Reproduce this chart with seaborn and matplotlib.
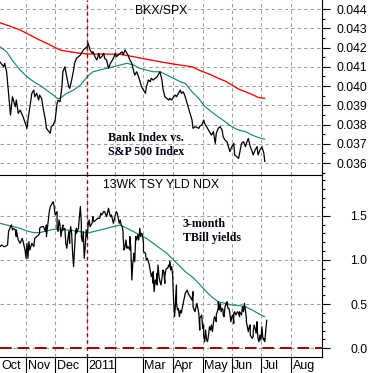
import matplotlib
matplotlib.use("Agg")
import matplotlib.pyplot as plt
import matplotlib.transforms as mtransforms
from matplotlib.ticker import MultipleLocator, FixedLocator
import seaborn as sns
import pandas as pd
import numpy as np

# ---------------- data (day offsets from 2010-10-01, values) ----------------
BASE = "2010-10-01"

ratio_days = [4, 8, 9, 11, 15, 17, 20, 21, 23, 25, 28, 32, 33, 37, 39, 40, 42, 44, 45, 47,
              49, 51, 52, 56, 57, 59, 61, 63, 64, 66, 68, 69, 71, 73, 75, 76, 78, 80, 81, 83,
              85, 87, 88, 90, 92, 94, 95, 97, 99, 100, 102, 104, 106, 107, 109, 111, 112, 114, 116, 118,
              119, 121, 123, 124, 126, 128, 130, 131, 133, 135, 136, 138, 140, 142, 143, 145, 147, 148, 150, 152,
              154, 155, 157, 159, 160, 162, 164, 166, 167, 169, 171, 172, 174, 176, 178, 179, 181, 183, 185, 186,
              190, 191, 193, 195, 198, 200, 202, 203, 205, 209, 210, 212, 214, 215, 217, 219, 222, 224, 226, 227,
              229, 231, 233, 234, 236, 238, 239, 241, 243, 245, 246, 250, 251, 253, 255, 257, 258, 260, 262, 264,
              265, 267, 269, 270, 272, 274, 276, 277]
ratio_vals = [0.04126, 0.04100, 0.04118, 0.04074, 0.03849, 0.03944, 0.03892, 0.03927, 0.03858, 0.03875,
              0.03840, 0.03780, 0.03823, 0.03962, 0.03979, 0.03944, 0.03962, 0.03927, 0.03953, 0.03936,
              0.03875, 0.03823, 0.03780, 0.03754, 0.03789, 0.03797, 0.03823, 0.03910, 0.03927, 0.03918,
              0.03996, 0.04074, 0.04100, 0.04048, 0.03996, 0.03988, 0.04031, 0.04083, 0.04118, 0.04144,
              0.04152, 0.04161, 0.04170, 0.04187, 0.04196, 0.04204, 0.04222, 0.04187, 0.04170, 0.04178,
              0.04152, 0.04135, 0.04170, 0.04144, 0.04152, 0.04170, 0.04144, 0.04135, 0.04092, 0.04118,
              0.04126, 0.04144, 0.04170, 0.04152, 0.04161, 0.04170, 0.04178, 0.04161, 0.04187, 0.04170,
              0.04161, 0.04135, 0.04118, 0.04074, 0.04057, 0.04074, 0.04048, 0.04031, 0.03996, 0.03979,
              0.03962, 0.03996, 0.04031, 0.04022, 0.04040, 0.04031, 0.04040, 0.04048, 0.04057, 0.04074,
              0.04031, 0.03988, 0.03944, 0.03936, 0.03927, 0.03936, 0.03927, 0.03944, 0.03953, 0.03944,
              0.03979, 0.03962, 0.03970, 0.03944, 0.03892, 0.03858, 0.03823, 0.03780, 0.03789, 0.03780,
              0.03792, 0.03797, 0.03823, 0.03806, 0.03789, 0.03771, 0.03745, 0.03763, 0.03702, 0.03754,
              0.03780, 0.03789, 0.03771, 0.03737, 0.03719, 0.03711, 0.03693, 0.03659, 0.03685, 0.03702,
              0.03642, 0.03624, 0.03650, 0.03702, 0.03711, 0.03685, 0.03702, 0.03728, 0.03685, 0.03659,
              0.03642, 0.03668, 0.03685, 0.03642, 0.03668, 0.03685, 0.03650, 0.03607]

ma_short_days = [4, 11, 18, 25, 32, 39, 45, 52, 59, 63, 66, 73, 80, 87, 94, 100, 107, 114, 121, 128,
                 135, 142, 148, 155, 162, 169, 176, 183, 190, 195, 202, 209, 215, 222, 229, 236, 243, 250,
                 257, 264, 270, 277]
ma_short_vals = [0.04204, 0.04178, 0.04126, 0.04083, 0.04048, 0.04022, 0.04005, 0.03979, 0.03953, 0.03936,
                 0.03936, 0.03962, 0.03979, 0.04005, 0.04048, 0.04074, 0.04083, 0.04092, 0.04100, 0.04109,
                 0.04118, 0.04109, 0.04092, 0.04083, 0.04074, 0.04074, 0.04057, 0.04040, 0.04022, 0.04014,
                 0.03970, 0.03935, 0.03895, 0.03866, 0.03840, 0.03815, 0.03789, 0.03771, 0.03763, 0.03745,
                 0.03733, 0.03723]

ma_long_days = [4, 15, 25, 35, 45, 56, 66, 76, 87, 97, 107, 128, 142, 155, 169, 183, 195, 202, 209, 215,
                222, 229, 236, 243, 250, 257, 264, 270, 277]
ma_long_vals = [0.04329, 0.04310, 0.04291, 0.04265, 0.04239, 0.04213, 0.04187, 0.04178, 0.04170, 0.04166,
                0.04166, 0.04165, 0.04152, 0.04139, 0.04126, 0.04114, 0.04105, 0.04100, 0.04083, 0.04071,
                0.04057, 0.04040, 0.04026, 0.04005, 0.03984, 0.03970, 0.03956, 0.03941, 0.03936]

yld_days = [4, 6, 8, 9, 12, 13, 15, 16, 17, 18, 20, 21, 21, 23, 25, 27, 28, 30, 31, 32,
            33, 34, 35, 37, 39, 40, 42, 44, 45, 45, 47, 49, 51, 52, 52, 54, 55, 56, 57, 58,
            59, 60, 61, 63, 63, 64, 65, 66, 67, 68, 69, 69, 71, 72, 73, 75, 76, 76, 77, 78,
            79, 80, 81, 82, 83, 83, 85, 86, 87, 88, 88, 89, 90, 91, 92, 93, 94, 94, 95, 96,
            97, 99, 100, 100, 101, 103, 105, 107, 108, 109, 111, 112, 114, 116, 117, 118, 119, 121, 123, 124,
            125, 126, 127, 128, 129, 130, 131, 131, 132, 133, 134, 135, 136, 138, 138, 139, 140, 141, 142, 142,
            143, 144, 145, 146, 147, 148, 148, 149, 150, 151, 152, 152, 154, 155, 156, 158, 160, 161, 162, 162,
            163, 164, 165, 166, 166, 167, 168, 169, 170, 171, 172, 173, 174, 174, 175, 176, 177, 178, 179, 179,
            180, 181, 182, 183, 184, 185, 186, 186, 187, 188, 189, 190, 191, 193, 195, 197, 198, 200, 202, 203,
            203, 205, 207, 209, 210, 210, 212, 213, 214, 214, 215, 216, 217, 218, 219, 220, 221, 222, 223, 224,
            225, 226, 227, 227, 229, 229, 230, 231, 232, 233, 234, 234, 235, 236, 237, 238, 238, 239, 240, 241,
            242, 243, 244, 245, 245, 246, 247, 248, 249, 250, 251, 251, 253, 254, 255, 256, 257, 258, 258, 259,
            260, 261, 262, 262, 264, 265, 265, 266, 267, 268, 269, 269, 270, 271, 272, 273, 274, 275, 276, 276,
            277, 278, 279]
yld_vals = [1.150, 1.169, 1.150, 1.150, 1.169, 1.320, 1.376, 1.395, 1.339, 1.357, 1.339, 1.263, 1.339, 1.225, 1.188, 1.244, 1.207, 1.112, 1.018, 1.188,
            1.018, 1.207, 1.112, 1.188, 1.150, 1.244, 1.263, 1.282, 1.301, 1.357, 1.376, 1.376, 1.320, 1.395, 1.263, 1.452, 1.546, 1.603, 1.621, 1.640,
            1.659, 1.603, 1.508, 1.546, 1.357, 1.320, 1.452, 1.395, 1.263, 1.339, 1.395, 1.339, 1.357, 1.188, 1.131, 1.320, 1.188, 1.282, 1.376, 1.301,
            1.075, 0.924, 1.112, 1.320, 1.357, 1.301, 1.357, 1.489, 1.603, 1.414, 1.263, 1.207, 1.320, 1.018, 1.150, 1.339, 1.282, 1.263, 1.395, 1.452,
            1.376, 1.414, 1.489, 1.452, 1.433, 1.452, 1.471, 1.471, 1.527, 1.508, 1.546, 1.546, 1.489, 1.584, 1.527, 1.489, 1.508, 1.414, 1.508, 1.546,
            1.527, 1.471, 1.414, 1.452, 1.395, 1.376, 1.320, 1.263, 1.112, 1.150, 1.225, 1.131, 1.150, 1.112, 1.263, 1.131, 0.773, 0.962, 1.037, 1.075,
            0.980, 1.263, 1.225, 1.282, 1.225, 1.320, 1.357, 1.263, 1.301, 1.282, 1.188, 1.094, 1.075, 0.999, 1.018, 0.943, 0.811, 0.848, 0.735, 0.867,
            0.641, 0.773, 0.735, 0.848, 0.716, 0.943, 0.811, 0.754, 0.716, 0.792, 0.886, 0.867, 0.735, 0.811, 0.886, 0.905, 0.905, 0.943, 0.924, 0.980,
            0.886, 0.924, 0.830, 0.547, 0.358, 0.509, 0.716, 0.509, 0.434, 0.452, 0.358, 0.430, 0.400, 0.509, 0.622, 0.659, 0.622, 0.584, 0.546, 0.641,
            0.471, 0.414, 0.509, 0.396, 0.207, 0.339, 0.377, 0.226, 0.264, 0.150, 0.075, 0.207, 0.094, 0.075, 0.150, 0.245, 0.207, 0.264, 0.188, 0.282,
            0.358, 0.339, 0.301, 0.377, 0.452, 0.527, 0.433, 0.509, 0.414, 0.452, 0.433, 0.377, 0.358, 0.471, 0.509, 0.490, 0.527, 0.452, 0.452, 0.396,
            0.301, 0.358, 0.377, 0.282, 0.396, 0.414, 0.377, 0.396, 0.414, 0.396, 0.358, 0.414, 0.377, 0.471, 0.414, 0.509, 0.433, 0.339, 0.301, 0.245,
            0.188, 0.245, 0.264, 0.150, 0.113, 0.132, 0.188, 0.264, 0.226, 0.169, 0.301, 0.245, 0.113, 0.075, 0.150, 0.094, 0.245, 0.113, 0.094, 0.113,
            0.075, 0.207, 0.320]

yld_ma_days = [4, 11, 18, 25, 32, 39, 45, 52, 59, 66, 73, 80, 87, 94, 100, 107, 114, 121, 128, 135,
               142, 148, 155, 162, 169, 176, 183, 190, 195, 202, 209, 215, 222, 229, 236, 243, 250, 257,
               264, 270, 277]
yld_ma_vals = [1.414, 1.395, 1.376, 1.357, 1.327, 1.308, 1.308, 1.327, 1.346, 1.346, 1.338, 1.330, 1.319,
               1.301, 1.319, 1.338, 1.357, 1.376, 1.395, 1.357, 1.319, 1.282, 1.244, 1.188, 1.131, 1.075,
               0.999, 0.923, 0.867, 0.810, 0.735, 0.660, 0.584, 0.527, 0.509, 0.490, 0.484, 0.471, 0.433,
               0.396, 0.357]

month_ticks = ["2010-11-01", "2010-12-01", "2011-01-03", "2011-02-01", "2011-03-01",
               "2011-04-01", "2011-05-02", "2011-06-01", "2011-07-01", "2011-08-01"]
month_labels = ["Nov", "Dec", "2011", "", "Mar", "Apr", "May", "Jun", "Jul", "Aug"]
first_label = "Oct"
year_marker = "2011-01-03"

top_yticks = [0.036, 0.037, 0.038, 0.039, 0.040, 0.041, 0.042, 0.043, 0.044]
bot_yticks = [0.0, 0.5, 1.0, 1.5]

# ---------------- helpers ----------------
base = pd.Timestamp(BASE)


def frame(days, vals):
    return pd.DataFrame({"date": base + pd.to_timedelta(np.asarray(days, float), unit="D"),
                         "value": vals})


sns.set_theme(style="white")
plt.rcParams["font.family"] = ["Liberation Sans", "DejaVu Sans"]

W, H = 371, 373
fig = plt.figure(figsize=(W / 100, H / 100), dpi=100)
fig.patch.set_facecolor("white")
ax1 = fig.add_axes([0, (H - 175) / H, 322 / W, 175 / H])
ax2 = fig.add_axes([0, (H - 357) / H, 322 / W, 182 / H], sharex=ax1)

black = "#000000"
teal = "#138a78"
red = "#ff0000"
darkred = "#a00000"
gridc = "#a0a0a0"
gls = (0, (3.4, 2.8))

month_dates = [pd.Timestamp(d) for d in month_ticks]
xmin = base + pd.Timedelta(days=4.2)
xmax = base + pd.Timedelta(days=335.9)

kw = dict(estimator=None, sort=False, legend=False, errorbar=None)
sns.lineplot(data=frame(ma_long_days, ma_long_vals), x="date", y="value", ax=ax1, color=red, lw=0.95, zorder=4, **kw)
sns.lineplot(data=frame(ma_short_days, ma_short_vals), x="date", y="value", ax=ax1, color=teal, lw=0.85, zorder=4, **kw)
sns.lineplot(data=frame(ratio_days, ratio_vals), x="date", y="value", ax=ax1, color=black, lw=0.9, zorder=5, **kw)

sns.lineplot(data=frame(yld_days, yld_vals), x="date", y="value", ax=ax2, color=black, lw=0.9, zorder=5, **kw)
sns.lineplot(data=frame(yld_ma_days, yld_ma_vals), x="date", y="value", ax=ax2, color=teal, lw=0.85, zorder=4, **kw)

ax1.set_xlim(xmin, xmax)
ax1.set_ylim(0.035377, 0.044468)
ax2.set_ylim(-0.098, 1.960)

# dashed grid at tick positions (line collections in axes-fraction / data coords)
for ax, yt in ((ax1, top_yticks), (ax2, bot_yticks)):
    ax.vlines(month_dates, 0, 1, transform=ax.get_xaxis_transform(), colors=gridc,
              linestyles=[gls], linewidths=0.75, zorder=3.5)
    ax.hlines(yt, 0, 1, transform=ax.get_yaxis_transform(), colors=gridc,
              linestyles=[gls], linewidths=0.75, zorder=3.5)
    ax.axvline(pd.Timestamp(year_marker), color=darkred, lw=1.0, ls=(0, (2.5, 2.5)), zorder=3.6)

ax2.axhline(0.0, color=darkred, lw=1.4, ls=(0, (6, 3)), zorder=3.6)

ax1.set_xlim(xmin, xmax)
ax1.set_ylim(0.035377, 0.044468)
ax2.set_ylim(-0.098, 1.960)

tick_pos = [xmin] + month_dates
ax2.xaxis.set_major_locator(FixedLocator(matplotlib.dates.date2num(tick_pos)))
ax2.set_xticklabels([first_label] + month_labels)

ax1.set_yticks(top_yticks)
ax1.set_yticklabels([f"{v:.3f}" for v in top_yticks])
ax1.yaxis.set_minor_locator(MultipleLocator(0.0005))
ax2.set_yticks(bot_yticks)
ax2.set_yticklabels([f"{v:.1f}" for v in bot_yticks])
ax2.yaxis.set_minor_locator(MultipleLocator(0.1))

for ax in (ax1, ax2):
    ax.set_xlabel("")
    ax.set_ylabel("")
    ax.set_facecolor("white")
    ax.spines["left"].set_visible(False)
    for s in ("right", "bottom", "top"):
        ax.spines[s].set_color("black")
        ax.spines[s].set_linewidth(0.8)
        ax.spines[s].set_zorder(6)
    ax.yaxis.tick_right()
ax1.spines["top"].set_visible(False)

for ax in (ax1, ax2):
    ax.tick_params(axis="y", which="major", right=True, left=False, length=6, width=0.8,
                   color="black", pad=26.6, labelsize=8.8, labelcolor="black")
    ax.tick_params(axis="y", which="minor", right=True, left=False, length=2.5, width=0.8, color="black")
    for lab in ax.get_yticklabels():
        lab.set_horizontalalignment("right")

ax1.tick_params(axis="x", which="both", bottom=False, labelbottom=False)
ax2.tick_params(axis="x", which="major", bottom=True, length=11.5, width=0.8, color="black",
                pad=-9.4, labelsize=9, labelcolor="black")
offset = mtransforms.ScaledTranslation(1.5 / 100, 0, fig.dpi_scale_trans)
for lab in ax2.get_xticklabels():
    lab.set_horizontalalignment("left")
    lab.set_transform(lab.get_transform() + offset)
ax2.xaxis.get_major_ticks()[0].tick1line.set_visible(False)

# titles and annotations
ax1.text(0.5, 0.937, "BKX/SPX", transform=ax1.transAxes, ha="center", va="center",
         fontsize=8.8, color="black", zorder=7)
ax2.text(0.5, 0.947, "13WK TSY YLD NDX", transform=ax2.transAxes, ha="center", va="center",
         fontsize=8.8, color="black", zorder=7)
ax1.text(0.335, 0.171, "Bank Index vs.\nS&P 500 Index", transform=ax1.transAxes, ha="left",
         va="center", fontsize=8.6, fontweight="bold", family=["Liberation Serif", "DejaVu Serif"],
         linespacing=1.3, color="#000010", zorder=7)
ax2.text(0.567, 0.692, "3-month\nTBill yields", transform=ax2.transAxes, ha="left",
         va="center", fontsize=8.6, fontweight="bold", family=["Liberation Serif", "DejaVu Serif"],
         linespacing=1.3, color="#000010", zorder=7)

fig.savefig("out.png", dpi=100, facecolor="white")
